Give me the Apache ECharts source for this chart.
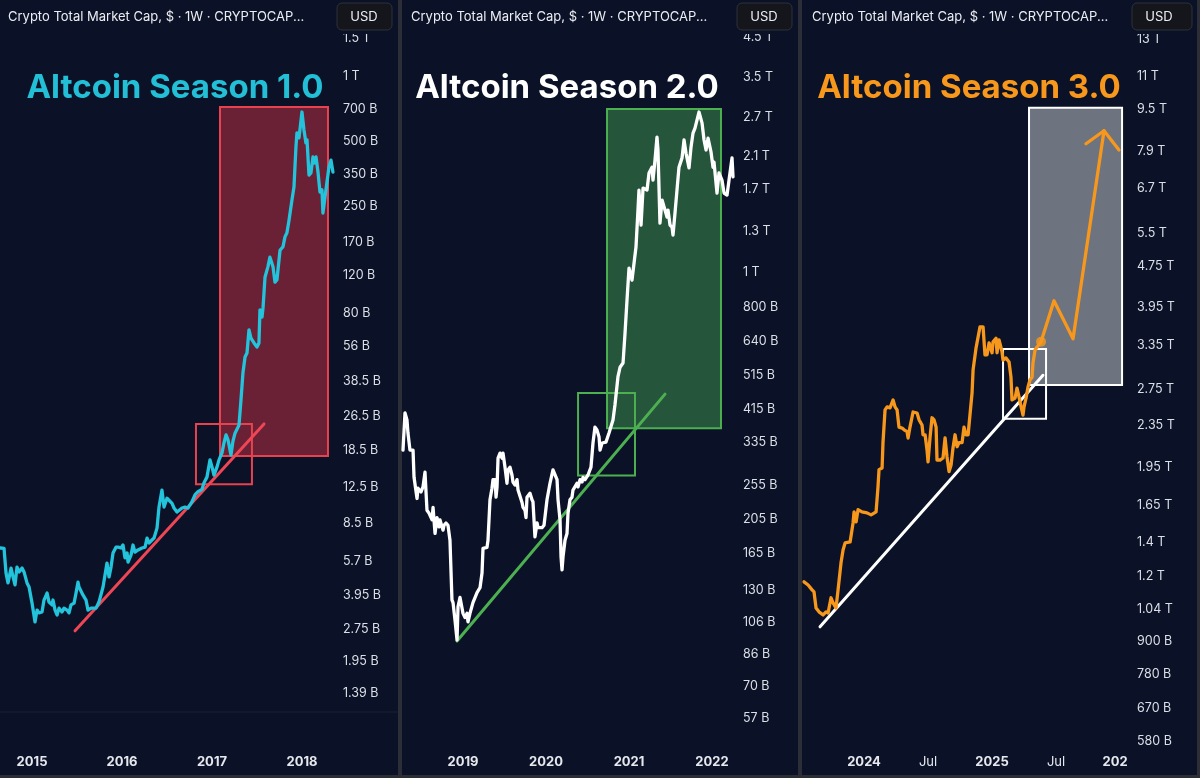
<!DOCTYPE html>
<html>
<head>
<meta charset="utf-8">
<title>Altcoin Season 1.0 / 2.0 / 3.0</title>
<script src="https://cdn.jsdelivr.net/npm/echarts@6/dist/echarts.min.js"></script>
<style>
  html, body { margin: 0; padding: 0; background: #2b2e36; }
  #chart { width: 1200px; height: 778px; }
</style>
</head>
<body>
<div id="chart"></div>
<script>
// total crypto market cap, weekly, [year, billions USD]
const season1Caps = [
  [2014.648, 6.53], [2014.689, 6.5], [2014.711, 5.0], [2014.733, 4.5], [2014.767, 5.27], [2014.789, 4.8],
  [2014.811, 4.41], [2014.833, 5.33], [2014.856, 5.06], [2014.889, 5.27], [2014.911, 5.06], [2014.944, 4.5],
  [2014.967, 4.31], [2015.0, 3.63], [2015.011, 3.67], [2015.033, 2.97], [2015.056, 3.37], [2015.078, 3.27],
  [2015.111, 3.3], [2015.133, 3.75], [2015.167, 4.04], [2015.189, 3.67], [2015.222, 3.56], [2015.233, 3.75],
  [2015.256, 3.37], [2015.278, 3.2], [2015.3, 3.44], [2015.333, 3.3], [2015.356, 3.44], [2015.389, 3.37],
  [2015.411, 3.27], [2015.433, 3.56], [2015.467, 3.63], [2015.489, 4.04], [2015.511, 4.54], [2015.522, 4.31],
  [2015.544, 4.26], [2015.567, 3.95], [2015.6, 3.75], [2015.622, 3.37], [2015.656, 3.44], [2015.678, 3.37],
  [2015.711, 3.44], [2015.744, 3.67], [2015.789, 4.31], [2015.811, 4.9], [2015.833, 5.56], [2015.856, 4.8],
  [2015.878, 5.33], [2015.9, 6.19], [2015.933, 6.59], [2015.956, 6.59], [2015.989, 6.53], [2016.011, 6.74],
  [2016.033, 5.88], [2016.056, 6.19], [2016.067, 5.62], [2016.1, 6.05], [2016.122, 6.74], [2016.144, 6.25],
  [2016.178, 6.4], [2016.222, 6.53], [2016.256, 6.59], [2016.278, 7.26], [2016.3, 6.89], [2016.333, 7.11],
  [2016.356, 7.26], [2016.378, 7.26], [2016.389, 8.07], [2016.411, 10.1], [2016.444, 12.1], [2016.467, 10.1],
  [2016.5, 11.1], [2016.522, 11.1], [2016.556, 10.5], [2016.578, 10.0], [2016.611, 9.58], [2016.633, 9.5],
  [2016.667, 10.0], [2016.7, 10.1], [2016.733, 10.0], [2016.778, 10.7], [2016.811, 11.5], [2016.844, 11.9],
  [2016.889, 12.2], [2016.911, 13.1], [2016.944, 13.9], [2016.978, 16.7], [2017.0, 15.5], [2017.022, 14.2],
  [2017.056, 15.5], [2017.078, 16.7], [2017.111, 18.0], [2017.133, 20.0], [2017.156, 21.8], [2017.178, 20.7],
  [2017.211, 17.6], [2017.233, 20.4], [2017.256, 22.2], [2017.278, 22.4], [2017.3, 24.2], [2017.322, 31.6],
  [2017.344, 42.2], [2017.367, 50.0], [2017.389, 52.2], [2017.411, 66.7], [2017.433, 61.2], [2017.467, 58.1],
  [2017.5, 55.6], [2017.522, 58.1], [2017.533, 82.6], [2017.556, 76.6], [2017.567, 84.4], [2017.589, 117],
  [2017.622, 131], [2017.644, 145], [2017.678, 131], [2017.7, 111], [2017.722, 114], [2017.756, 156],
  [2017.789, 162], [2017.811, 180], [2017.833, 188], [2017.856, 215], [2017.889, 267], [2017.911, 306],
  [2017.933, 469], [2017.944, 545], [2017.967, 517], [2018.0, 681], [2018.022, 562], [2018.044, 490],
  [2018.056, 506], [2018.078, 348], [2018.1, 356], [2018.122, 422], [2018.133, 395], [2018.156, 422],
  [2018.178, 359], [2018.2, 290], [2018.222, 297], [2018.233, 232], [2018.256, 275], [2018.278, 323],
  [2018.3, 379], [2018.322, 408], [2018.344, 359]
];

const season2Caps = [
  [2018.277, 319], [2018.301, 405], [2018.325, 387], [2018.337, 356], [2018.361, 319], [2018.398, 319],
  [2018.41, 268], [2018.446, 234], [2018.458, 250], [2018.494, 244], [2018.518, 252], [2018.542, 277],
  [2018.566, 217], [2018.59, 213], [2018.627, 204], [2018.639, 221], [2018.663, 187], [2018.687, 207],
  [2018.711, 195], [2018.723, 204], [2018.759, 191], [2018.771, 197], [2018.795, 200], [2018.819, 197],
  [2018.843, 179], [2018.867, 122], [2018.88, 120], [2018.904, 107], [2018.928, 94.4], [2018.94, 117],
  [2018.964, 124], [2018.988, 124], [2019.0, 112], [2019.024, 109], [2019.048, 112], [2019.06, 106],
  [2019.084, 112], [2019.12, 120], [2019.169, 128], [2019.205, 132], [2019.229, 145], [2019.241, 170],
  [2019.265, 168], [2019.289, 171], [2019.301, 179], [2019.325, 232], [2019.349, 250], [2019.361, 264],
  [2019.386, 264], [2019.398, 236], [2019.41, 252], [2019.422, 303], [2019.446, 313], [2019.47, 303],
  [2019.482, 313], [2019.506, 286], [2019.53, 258], [2019.542, 281], [2019.566, 286], [2019.59, 272],
  [2019.602, 260], [2019.627, 255], [2019.651, 264], [2019.663, 247], [2019.687, 250], [2019.711, 228],
  [2019.723, 221], [2019.747, 217], [2019.759, 207], [2019.771, 236], [2019.807, 242], [2019.831, 232],
  [2019.843, 229], [2019.867, 183], [2019.892, 200], [2019.904, 194], [2019.928, 195], [2019.952, 194],
  [2019.976, 197], [2020.012, 232], [2020.048, 258], [2020.084, 281], [2020.108, 284], [2020.133, 264],
  [2020.145, 232], [2020.169, 204], [2020.181, 161], [2020.193, 148], [2020.205, 161], [2020.229, 179],
  [2020.253, 187], [2020.265, 213], [2020.289, 232], [2020.313, 236], [2020.325, 247], [2020.349, 244],
  [2020.373, 258], [2020.386, 252], [2020.41, 264], [2020.434, 260], [2020.446, 268], [2020.47, 264],
  [2020.506, 272], [2020.542, 286], [2020.566, 334], [2020.59, 370], [2020.614, 363], [2020.639, 347],
  [2020.651, 319], [2020.675, 334], [2020.699, 330], [2020.723, 336], [2020.759, 356], [2020.783, 356],
  [2020.807, 387], [2020.831, 427], [2020.867, 511], [2020.892, 543], [2020.928, 558], [2020.952, 676],
  [2020.976, 836], [2021.0, 1026], [2021.036, 950], [2021.06, 950], [2021.084, 1174], [2021.108, 1488],
  [2021.12, 1692], [2021.145, 1352], [2021.169, 1714], [2021.193, 1722], [2021.217, 1692], [2021.241, 1888],
  [2021.277, 1959], [2021.289, 1804], [2021.313, 2051], [2021.337, 2377], [2021.349, 2188], [2021.373, 1369],
  [2021.398, 1587], [2021.422, 1607], [2021.458, 1423], [2021.47, 1488], [2021.494, 1352], [2021.518, 1334],
  [2021.53, 1268], [2021.554, 1459], [2021.578, 1692], [2021.602, 1959], [2021.639, 2080], [2021.663, 2333],
  [2021.687, 2143], [2021.711, 2160], [2021.723, 1950], [2021.747, 2228], [2021.771, 2438], [2021.795, 2518],
  [2021.819, 2650], [2021.843, 2791], [2021.88, 2600], [2021.904, 2333], [2021.928, 2188], [2021.952, 2360],
  [2021.988, 2160], [2022.012, 1959], [2022.024, 2023], [2022.06, 1660], [2022.084, 1888], [2022.12, 1804],
  [2022.145, 1660], [2022.181, 1638], [2022.205, 1804], [2022.241, 2080], [2022.253, 1841]
];

const season3Caps = [
  [2023.531, 1173], [2023.563, 1157], [2023.594, 1132], [2023.609, 1122], [2023.625, 1045], [2023.648, 1027],
  [2023.68, 1013], [2023.703, 1027], [2023.719, 1022], [2023.742, 1093], [2023.758, 1069], [2023.781, 1045],
  [2023.797, 1132], [2023.82, 1276], [2023.836, 1351], [2023.852, 1394], [2023.891, 1400], [2023.914, 1523],
  [2023.922, 1599], [2023.938, 1530], [2023.953, 1615], [2023.984, 1599], [2024.023, 1592], [2024.055, 1578],
  [2024.07, 1592], [2024.094, 1599], [2024.109, 1786], [2024.117, 1928], [2024.141, 1942], [2024.148, 2173],
  [2024.164, 2512], [2024.18, 2546], [2024.203, 2535], [2024.227, 2625], [2024.242, 2546], [2024.258, 2512],
  [2024.273, 2328], [2024.297, 2318], [2024.313, 2300], [2024.336, 2281], [2024.344, 2218], [2024.359, 2328],
  [2024.383, 2489], [2024.398, 2489], [2024.414, 2478], [2024.43, 2404], [2024.453, 2350], [2024.461, 2250],
  [2024.477, 2250], [2024.492, 2104], [2024.5, 1995], [2024.516, 2229], [2024.531, 2426], [2024.547, 2404],
  [2024.563, 2328], [2024.57, 2012], [2024.594, 2012], [2024.617, 2030], [2024.633, 2218], [2024.648, 2042],
  [2024.664, 1911], [2024.68, 1968], [2024.695, 2123], [2024.711, 2250], [2024.727, 2134], [2024.742, 2173],
  [2024.766, 2173], [2024.781, 2328], [2024.797, 2250], [2024.813, 2250], [2024.828, 2270], [2024.844, 2710],
  [2024.852, 2999], [2024.875, 3304], [2024.891, 3467], [2024.906, 3630], [2024.93, 3630], [2024.945, 3206],
  [2024.961, 3206], [2024.977, 3381], [2025.0, 3236], [2025.008, 3397], [2025.031, 3451], [2025.039, 3236],
  [2025.055, 3424], [2025.078, 3251], [2025.086, 3133], [2025.109, 3162], [2025.133, 3105], [2025.148, 2904],
  [2025.156, 2625], [2025.18, 2648], [2025.195, 2767], [2025.211, 2661], [2025.227, 2546], [2025.242, 2455],
  [2025.25, 2546], [2025.266, 2648], [2025.281, 2780], [2025.297, 2870], [2025.313, 2904], [2025.32, 3092],
  [2025.336, 3276], [2025.352, 3319], [2025.383, 3397]
];

// hand-drawn projection for season 3 and its arrow head
const season3Path = [[2025.383, 3397], [2025.484, 4074], [2025.633, 3443], [2025.875, 8650], [2025.992, 7943]];
const season3Arrow = [[2025.734, 8166], [2025.875, 8650]];

// trend lines and boxes, [year, billions]
const trend1 = [[2015.478, 2.70], [2017.578, 24.5]];
const trend2 = [[2018.928, 93.8], [2021.434, 457]];
const trend3 = [[2023.656, 961], [2025.398, 2929]];
const bigBox1 = [[2017.089, 718], [2018.289, 17.4]];
const smallBox1 = [[2016.822, 24.5], [2017.444, 12.9]];
const bigBox2 = [[2020.735, 2844], [2022.108, 367]];
const smallBox2 = [[2020.386, 460], [2021.072, 271]];
const bigBox3 = [[2025.289, 9572], [2026.016, 2805]];
const smallBox3 = [[2025.086, 3290], [2025.422, 2415]];

// visible ranges of each pane
const xRange1 = [2014.644, 2018.367];
const xRange2 = [2018.265, 2022.301];
const xRange3 = [2023.523, 2026.078];
const yRange1 = [1.137, 1581];
const yRange2 = [49.7, 4634];
const yRange3 = [557, 13335];

// price scale ticks (billions) and their labels
const yTicks1 = [1500, 1000, 700, 500, 350, 250, 170, 120, 80, 56, 38.5, 26.5, 18.5, 12.5, 8.5, 5.7, 3.95, 2.75, 1.95, 1.39];
const yNames1 = ['1.5 T', '1 T', '700 B', '500 B', '350 B', '250 B', '170 B', '120 B', '80 B', '56 B', '38.5 B', '26.5 B', '18.5 B', '12.5 B', '8.5 B', '5.7 B', '3.95 B', '2.75 B', '1.95 B', '1.39 B'];
const yTicks2 = [4500, 3500, 2700, 2100, 1700, 1300, 1000, 800, 640, 515, 415, 335, 255, 205, 165, 130, 106, 86, 70, 57];
const yNames2 = ['4.5 T', '3.5 T', '2.7 T', '2.1 T', '1.7 T', '1.3 T', '1 T', '800 B', '640 B', '515 B', '415 B', '335 B', '255 B', '205 B', '165 B', '130 B', '106 B', '86 B', '70 B', '57 B'];
const yTicks3 = [13000, 11000, 9500, 7900, 6700, 5500, 4750, 3950, 3350, 2750, 2350, 1950, 1650, 1400, 1200, 1040, 900, 780, 670, 580];
const yNames3 = ['13 T', '11 T', '9.5 T', '7.9 T', '6.7 T', '5.5 T', '4.75 T', '3.95 T', '3.35 T', '2.75 T', '2.35 T', '1.95 T', '1.65 T', '1.4 T', '1.2 T', '1.04 T', '900 B', '780 B', '670 B', '580 B'];

// time scale ticks
const xTicks1 = [2015, 2016, 2017, 2018];
const xNames1 = ['2015', '2016', '2017', '2018'];
const xTicks2 = [2019, 2020, 2021, 2022];
const xNames2 = ['2019', '2020', '2021', '2022'];
const xTicks3 = [2024, 2024.5, 2025, 2025.5, 2026];
const xNames3 = ['2024', 'Jul', '2025', 'Jul', '202'];

const titles = ['Altcoin Season 1.0', 'Altcoin Season 2.0', 'Altcoin Season 3.0'];
const header = 'Crypto Total Market Cap, $ \u00b7 1W \u00b7 CRYPTOCAP...';

const BG = '#0b1227';
const FONT = 'Inter, "Noto Sans", sans-serif';

const lg = v => Math.log10(v);
const toLog = pts => pts.map(p => [p[0], lg(p[1])]);

function nearest(list, v) {
  let best = 0;
  for (let i = 1; i < list.length; i++) {
    if (Math.abs(list[i] - v) < Math.abs(list[best] - v)) best = i;
  }
  return best;
}

function boxArea(box, fill, border) {
  return [
    { coord: [box[0][0], lg(box[0][1])], itemStyle: { color: fill, borderColor: border, borderWidth: 2, opacity: 1 } },
    { coord: [box[1][0], lg(box[1][1])] }
  ];
}

// pane geometry: left, top, width, height, x-label margin
const panes = [
  { left: 0, top: 33, width: 335, height: 679, xMargin: 44, yMargin: 8 },
  { left: 402, top: 33, width: 335, height: 707, xMargin: 16, yMargin: 6 },
  { left: 803, top: 33, width: 327, height: 717, xMargin: 6, yMargin: 7 }
];
const xTicks = [xTicks1, xTicks2, xTicks3];
const xNames = [xNames1, xNames2, xNames3];
const yTicks = [yTicks1, yTicks2, yTicks3];
const yNames = [yNames1, yNames2, yNames3];
const xRanges = [xRange1, xRange2, xRange3];
const yRanges = [yRange1, yRange2, yRange3];

const grid = [], xAxis = [], yAxis = [];
panes.forEach((p, i) => {
  grid.push({ left: p.left, top: p.top, width: p.width, height: p.height, containLabel: false });
  const xt = xTicks[i], xn = xNames[i];
  xAxis.push({
    type: 'value', gridIndex: i, min: xRanges[i][0], max: xRanges[i][1],
    axisLine: { show: false }, axisTick: { show: false }, splitLine: { show: false },
    axisLabel: {
      customValues: xt,
      margin: p.xMargin,
      formatter: v => {
        const k = nearest(xt, v);
        const name = xn[k];
        if (name === 'Jul') return '{m|Jul}';
        if (name.length < 4) return '{cut|' + name + '}';
        return '{y|' + name + '}';
      },
      rich: {
        y: { color: '#e6e8ee', fontFamily: FONT, fontSize: 13, fontWeight: 'bold' },
        m: { color: '#e6e8ee', fontFamily: FONT, fontSize: 13 },
        cut: { color: '#e6e8ee', fontFamily: FONT, fontSize: 13, fontWeight: 'bold', padding: [0, 10, 0, 0] }
      }
    }
  });
  const yl = yTicks[i].map(lg), yn = yNames[i];
  yAxis.push({
    type: 'value', gridIndex: i, position: 'right',
    min: lg(yRanges[i][0]), max: lg(yRanges[i][1]),
    axisLine: { show: false }, axisTick: { show: false }, splitLine: { show: false },
    axisLabel: {
      customValues: yl,
      margin: p.yMargin,
      align: 'left',
      color: '#dcdfe6',
      fontFamily: FONT,
      fontSize: 12.5,
      formatter: v => yn[nearest(yl, v)]
    }
  });
});

const seasons = [
  { caps: season1Caps, color: '#22c3db', trend: trend1, trendColor: '#ee4655',
    big: bigBox1, small: smallBox1, fill: '#6a2136', border: '#e8424f', titleColor: '#22bfd6' },
  { caps: season2Caps, color: '#ffffff', trend: trend2, trendColor: '#4cb050',
    big: bigBox2, small: smallBox2, fill: '#25553a', border: '#4caf50', titleColor: '#ffffff' },
  { caps: season3Caps, color: '#f7981d', trend: trend3, trendColor: '#ffffff',
    big: bigBox3, small: smallBox3, fill: '#6d737f', border: '#ffffff', titleColor: '#f7981d' }
];

const series = [];
seasons.forEach((s, i) => {
  series.push({
    type: 'line', xAxisIndex: i, yAxisIndex: i, data: [], silent: true, z: 1,
    markArea: {
      silent: true,
      data: [boxArea(s.big, s.fill, s.border), boxArea(s.small, 'rgba(0,0,0,0)', s.border)]
    }
  });
  series.push({
    type: 'line', xAxisIndex: i, yAxisIndex: i, data: toLog(s.trend), symbol: 'none', z: 3,
    lineStyle: { color: s.trendColor, width: 3, cap: 'round' }
  });
  series.push({
    type: 'line', xAxisIndex: i, yAxisIndex: i, data: toLog(s.caps), symbol: 'none', z: 4,
    lineStyle: { color: s.color, width: 3.3, join: 'round', cap: 'round' }
  });
});
// season 3 projection
series.push({
  type: 'line', xAxisIndex: 2, yAxisIndex: 2, data: toLog(season3Path), symbol: 'none', z: 4,
  lineStyle: { color: '#f7981d', width: 3.3, join: 'round', cap: 'round' }
});
series.push({
  type: 'line', xAxisIndex: 2, yAxisIndex: 2, data: toLog(season3Arrow), symbol: 'none', z: 4,
  lineStyle: { color: '#f7981d', width: 3.3, cap: 'round' }
});
series.push({
  type: 'scatter', xAxisIndex: 2, yAxisIndex: 2, data: toLog([season3Path[0]]), symbolSize: 10, z: 5,
  itemStyle: { color: '#f7981d' }
});

// panels, headers, buttons, titles
const panelRects = [[0, 398], [402, 798], [802, 1197]];
const headerX = [8, 411, 812];
const usdBox = [[337, 55], [737, 55], [1132, 60]];
const titleX = [175, 567, 969];
const graphic = [];
panelRects.forEach((r, i) => {
  graphic.push({ type: 'rect', z: -10, shape: { x: r[0], y: 0, width: r[1] - r[0], height: 775 }, style: { fill: BG } });
  graphic.push({ type: 'rect', z: 100, shape: { x: r[0], y: 0, width: r[1] - r[0], height: 34 }, style: { fill: BG } });
  graphic.push({ type: 'text', z: 101, x: headerX[i], y: 17,
    style: { text: header, fill: '#eceef3', font: '13px ' + FONT, textVerticalAlign: 'middle' } });
  graphic.push({ type: 'rect', z: 101, shape: { x: usdBox[i][0], y: 3, width: usdBox[i][1], height: 27, r: 5 },
    style: { fill: '#14161c', stroke: '#2e313a', lineWidth: 1 } });
  graphic.push({ type: 'text', z: 102, x: usdBox[i][0] + 27, y: 17,
    style: { text: 'USD', fill: '#eceef3', font: '13px ' + FONT, textAlign: 'center', textVerticalAlign: 'middle' } });
  graphic.push({ type: 'text', z: 101, x: titleX[i], y: 88,
    style: { text: titles[i], fill: seasons[i].titleColor, font: 'bold 33px ' + FONT, textAlign: 'center', textVerticalAlign: 'middle' } });
});
// pane bottom border of the first chart
graphic.push({ type: 'line', z: 0, shape: { x1: 0, y1: 712, x2: 398, y2: 712 }, style: { stroke: '#1a2134', lineWidth: 1 } });

const chart = echarts.init(document.getElementById('chart'));
chart.setOption({
  backgroundColor: '#2b2e36',
  animation: false,
  grid, xAxis, yAxis, series, graphic
});
</script>
</body>
</html>
